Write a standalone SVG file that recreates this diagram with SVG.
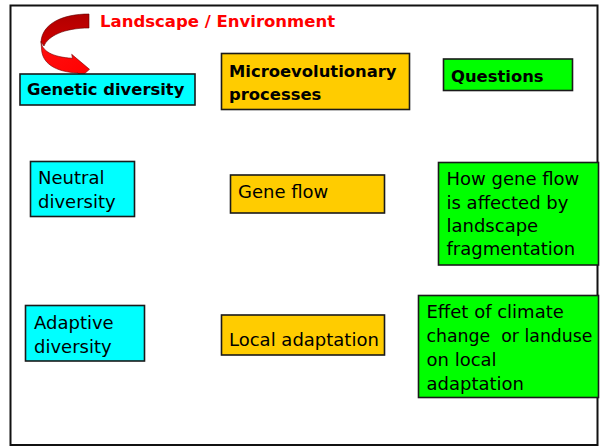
<svg xmlns="http://www.w3.org/2000/svg" width="600" height="447" viewBox="0 0 600 447">
<style>
.box{stroke:#1a1a1a;stroke-width:1.6}
.cyan{fill:#00FFFF}
.gold{fill:#FFCC00}
.green{fill:#00FF00}
.t{font-family:"DejaVu Sans","Liberation Sans",sans-serif;font-size:18px;fill:#000}
.b{font-family:"DejaVu Sans","Liberation Sans",sans-serif;font-size:16.4px;font-weight:bold;fill:#000}
.title{font-family:"DejaVu Sans","Liberation Sans",sans-serif;font-size:16.5px;font-weight:bold;fill:#FF0000}
</style>
<defs>
<linearGradient id="back" x1="0" y1="0" x2="0" y2="1">
<stop offset="0" stop-color="#B00000"/>
<stop offset="1" stop-color="#D00000"/>
</linearGradient>
<linearGradient id="front" x1="0" y1="0" x2="1" y2="1">
<stop offset="0" stop-color="#FF1010"/>
<stop offset="1" stop-color="#FF0000"/>
</linearGradient>
</defs>
<rect x="10.5" y="5.5" width="587" height="439.5" fill="#FFFFFF" stroke="#111" stroke-width="2"/>
<g id="title">
<text class="title" x="100" y="26.5">Landscape / Environment</text>
</g>
<g id="curved-arrow">
<path d="M89,14 C62,14 42,24 41,42 L44,46 C48,36 64,28 89,28 Z" fill="url(#back)" stroke="#600000" stroke-width="0.6"/>
<path d="M41,41.5 C42,51 52,57 72.5,58.3 L71.7,54.3 L89.5,69.3 L80,77.7 L78,73 C55,72 41.5,63 41.5,48 Z" fill="url(#front)" stroke="#700000" stroke-width="0.6"/>
</g>
<g id="genetic-diversity">
<rect class="box cyan" x="20" y="74" width="175" height="31"/>
<text class="b" x="27" y="95">Genetic diversity</text>
</g>
<g id="microevolutionary-processes">
<rect class="box gold" x="221.5" y="53.5" width="188" height="56"/>
<text class="b" x="229" y="77">Microevolutionary</text>
<text class="b" x="229" y="99.5">processes</text>
</g>
<g id="questions">
<rect class="box green" x="443.5" y="59" width="129" height="31.5"/>
<text class="b" x="451" y="81.5">Questions</text>
</g>
<g id="neutral-diversity">
<rect class="box cyan" x="30.5" y="161.5" width="104" height="55"/>
<text class="t" x="38" y="184">Neutral</text>
<text class="t" x="38" y="207.5">diversity</text>
</g>
<g id="gene-flow">
<rect class="box gold" x="230.5" y="175" width="154" height="38"/>
<text class="t" x="238" y="198">Gene flow</text>
</g>
<g id="gene-flow-question">
<rect class="box green" x="438.5" y="162.5" width="160" height="102.5"/>
<text class="t" x="446.5" y="185">How gene flow</text>
<text class="t" x="446.5" y="208.5">is affected by</text>
<text class="t" x="446.5" y="231.5">landscape</text>
<text class="t" x="446.5" y="254.5">fragmentation</text>
</g>
<g id="adaptive-diversity">
<rect class="box cyan" x="25.5" y="305.5" width="119" height="55.5"/>
<text class="t" x="34" y="329">Adaptive</text>
<text class="t" x="34" y="353">diversity</text>
</g>
<g id="local-adaptation">
<rect class="box gold" x="221.5" y="315" width="163" height="40"/>
<text class="t" x="229" y="345.5">Local adaptation</text>
</g>
<g id="climate-question">
<rect class="box green" x="418.5" y="295.5" width="180" height="102"/>
<text class="t" x="426.5" y="318">Effet of climate</text>
<text class="t" x="426.5" y="342" style="white-space:pre" textLength="166" lengthAdjust="spacingAndGlyphs">change  or landuse</text>
<text class="t" x="426.5" y="366">on local</text>
<text class="t" x="426.5" y="389.5">adaptation</text>
</g>
<g id="connectors"></g>
</svg>
